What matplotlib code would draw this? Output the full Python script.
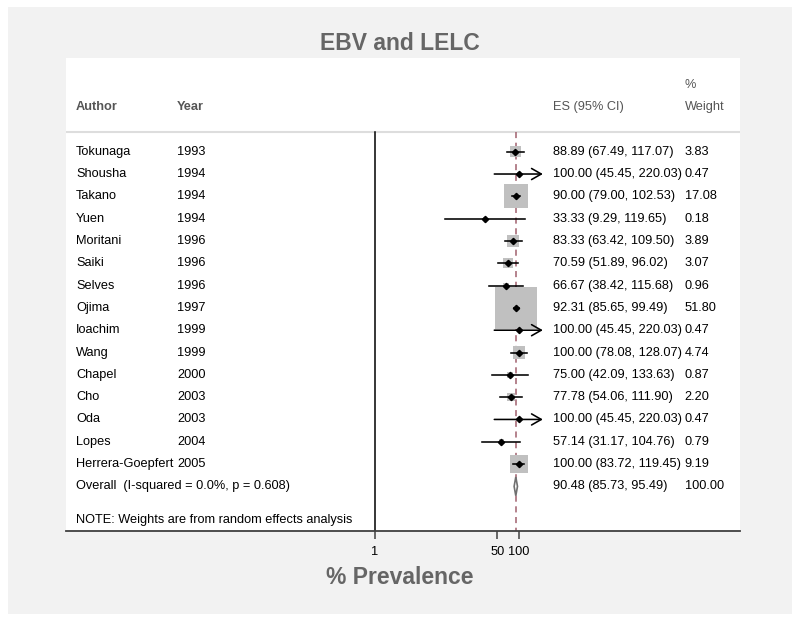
import numpy as np
import matplotlib
matplotlib.use("Agg")
import matplotlib.pyplot as plt
from matplotlib.patches import Rectangle, Polygon

plt.rcParams["font.family"] = ["Liberation Sans", "DejaVu Sans"]

# Study data
authors = ["Tokunaga", "Shousha", "Takano", "Yuen", "Moritani", "Saiki", "Selves",
           "Ojima", "Ioachim", "Wang", "Chapel", "Cho", "Oda", "Lopes",
           "Herrera-Goepfert"]
years = ["1993", "1994", "1994", "1994", "1996", "1996", "1996", "1997", "1999",
         "1999", "2000", "2003", "2003", "2004", "2005"]
es = [88.89, 100.00, 90.00, 33.33, 83.33, 70.59, 66.67, 92.31, 100.00, 100.00,
      75.00, 77.78, 100.00, 57.14, 100.00]
lo = [67.49, 45.45, 79.00, 9.29, 63.42, 51.89, 38.42, 85.65, 45.45, 78.08,
      42.09, 54.06, 45.45, 31.17, 83.72]
hi = [117.07, 220.03, 102.53, 119.65, 109.50, 96.02, 115.68, 99.49, 220.03,
      128.07, 133.63, 111.90, 220.03, 104.76, 119.45]
weights = [3.83, 0.47, 17.08, 0.18, 3.89, 3.07, 0.96, 51.80, 0.47, 4.74, 0.87,
           2.20, 0.47, 0.79, 9.19]

overall_es, overall_lo, overall_hi = 90.48, 85.73, 95.49
overall_label = "Overall  (I-squared = 0.0%, p = 0.608)"
note = "NOTE: Weights are from random effects analysis"
xticks = [1, 50, 100]
clip_hi = 215  # upper CIs beyond this get an arrow

fig = plt.figure(figsize=(8, 6.22), dpi=100)
fig.patch.set_facecolor("white")
# light grey outer panel
fig.patches.append(Rectangle((8 / 800, 8 / 622), 784 / 800, 607 / 622,
                             transform=fig.transFigure, facecolor="#f2f2f2",
                             edgecolor="none", zorder=-5))

ax = fig.add_axes([66 / 800, 91 / 622, 674 / 800, 473 / 622])
ax.set_facecolor("white")
ax.set_xscale("log")
ax.set_xlim(10 ** -4.29, 10 ** 5.07)
ax.set_ylim(17.0, -4.2)

n = len(authors)
rows = np.arange(n)
tr = ax.get_yaxis_transform()  # x in axes fraction, y in data
fs = 9.2
col_author, col_year, col_es, col_w = 0.015, 0.165, 0.7225, 0.918

# header
ax.text(col_author, -2, "Author", transform=tr, fontsize=fs, fontweight="bold",
        color="#555555", va="center")
ax.text(col_year, -2, "Year", transform=tr, fontsize=fs, fontweight="bold",
        color="#555555", va="center")
ax.text(col_es, -2, "ES (95% CI)", transform=tr, fontsize=fs, color="#555555",
        va="center")
ax.text(col_w, -2, "Weight", transform=tr, fontsize=fs, color="#555555", va="center")
ax.text(col_w, -3, "%", transform=tr, fontsize=fs, color="#555555", va="center")
ax.axhline(-0.9, color="#dddddd", lw=1.5)

# reference lines
ax.plot([1, 1], [-0.9, 17.0], color="black", lw=1.1, zorder=2)
ax.plot([overall_es, overall_es], [-0.9, 17.0], color="#a0606e", lw=1.1,
        ls=(0, (4, 3)), zorder=2)

# study rows
for i in range(n):
    y = rows[i]
    ax.text(col_author, y, authors[i], transform=tr, fontsize=fs, va="center")
    ax.text(col_year, y, years[i], transform=tr, fontsize=fs, va="center")
    ax.text(col_es, y, "%.2f (%.2f, %.2f)" % (es[i], lo[i], hi[i]),
            transform=tr, fontsize=fs, va="center")
    ax.text(col_w, y, "%.2f" % weights[i], transform=tr, fontsize=fs, va="center")

    side_pt = 5.836 * np.sqrt(weights[i]) * 0.72
    ax.scatter([es[i]], [y], marker="s", s=side_pt ** 2, color="#c0c0c0",
               edgecolors="none", zorder=3)
    if hi[i] > clip_hi:
        ax.annotate("", xy=(clip_hi, y), xytext=(lo[i], y),
                    arrowprops=dict(arrowstyle="->,head_length=0.7,head_width=0.4",
                                    lw=1.15, color="black", shrinkA=0, shrinkB=0),
                    zorder=4)
    else:
        ax.plot([lo[i], hi[i]], [y, y], color="black", lw=1.15, zorder=4)
    ax.plot([es[i]], [y], marker="D", ms=3.2, color="black", zorder=5)

# overall row
ax.text(col_author, n, overall_label, transform=tr, fontsize=fs, va="center")
ax.text(col_es, n, "%.2f (%.2f, %.2f)" % (overall_es, overall_lo, overall_hi),
        transform=tr, fontsize=fs, va="center")
ax.text(col_w, n, "%.2f" % 100.00, transform=tr, fontsize=fs, va="center")
ax.add_patch(Polygon([(overall_lo, n), (overall_es, n - 0.42), (overall_hi, n),
                      (overall_es, n + 0.42)], closed=True, facecolor="white",
                     edgecolor="#707070", lw=1.2, zorder=5))

ax.text(col_author, 16.5, note, transform=tr, fontsize=fs, va="center")

# axis styling
for s in ["top", "left", "right"]:
    ax.spines[s].set_visible(False)
ax.spines["bottom"].set_color("#404040")
ax.spines["bottom"].set_linewidth(1.3)
ax.set_yticks([])
ax.set_xticks(xticks)
ax.set_xticklabels([str(t) for t in xticks])
ax.minorticks_off()
ax.tick_params(axis="x", direction="out", length=6, width=1.1, color="#404040",
               labelsize=fs, pad=5)

fig.text(0.5, 1 - 44 / 622, "EBV and LELC", ha="center", va="center",
         fontsize=16.5, fontweight="bold", color="#666666")
fig.text(0.5, 1 - 577 / 622, "% Prevalence", ha="center", va="center",
         fontsize=16.5, fontweight="bold", color="#666666")

fig.savefig("out.png", dpi=100)
